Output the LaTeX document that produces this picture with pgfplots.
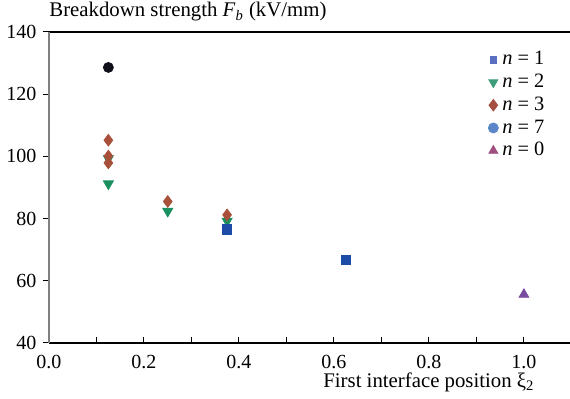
\documentclass[border=0pt]{standalone}
\usepackage{fontspec}
\setmainfont{Liberation Serif}
\usepackage{pgfplots}
\pgfplotsset{compat=1.18}
\definecolor{sqP}{HTML}{1C4CA8}
\definecolor{sqL}{HTML}{5B6FC0}
\definecolor{grP}{HTML}{1A9060}
\definecolor{grL}{HTML}{3E9C78}
\definecolor{diP}{HTML}{A8503A}
\definecolor{diL}{HTML}{A55040}
\definecolor{ciP}{HTML}{10101A}
\definecolor{ciL}{HTML}{5B86C8}
\definecolor{trP}{HTML}{7A4CA0}
\definecolor{trL}{HTML}{A05080}
\begin{document}
\fontsize{10.4}{12.5}\selectfont
\begin{tikzpicture}
\begin{axis}[
  scale only axis, width=260.5pt, height=155.5pt,
  xmin=0, xmax=1.097, ymin=40, ymax=140,
  clip=false,
  xtick={0,0.2,0.4,0.6,0.8,1.0},
  minor xtick={0.1,0.3,0.5,0.7,0.9},
  ytick={40,60,80,100,120,140},
  tick label style={font=\rmfamily\fontsize{10}{12}\selectfont},
  xticklabel style={yshift=-2.6pt, /pgf/number format/.cd, fixed, fixed zerofill, precision=1},
  /pgf/number format/assume math mode=true,
  xtick pos=left, ytick pos=left,
  axis line style={draw=none},
  tick align=inside,
  tick style={black, line width=0.5pt},
  major tick length=3.2pt, minor tick length=3.2pt,
  every y tick/.append style={xshift=-3.2pt},
  yticklabel style={xshift=-2.7pt},
  legend style={draw=none, fill=none, at={(axis description cs:0.831,0.965)}, anchor=north west, row sep=-0.9pt, font=\rmfamily\fontsize{10.2}{12}\selectfont},
  legend cell align=left,
  legend image code/.code={\draw[mark repeat=2,mark phase=2,#1] plot coordinates {(0cm,0cm) (0.15cm,0cm) (0.5cm,0cm)};},
]
% n = 2 (green, down triangles)
\addplot[forget plot, only marks, mark=triangle*, mark size=2.9pt, color=grP, mark options={rotate=180}]
  coordinates {(0.125,91.2) (0.125,99.3) (0.25,82.4) (0.375,79.2)};
% n = 3 (diamonds)
\addplot[forget plot, only marks, mark=diamond*, mark size=2.9pt, color=diP]
  coordinates {(0.125,105.2) (0.125,100.1) (0.125,97.9) (0.25,85.5) (0.375,81.2)};
% n = 1 (squares)
\addplot[forget plot, only marks, mark=square*, mark size=2.4pt, color=sqP]
  coordinates {(0.375,76.6) (0.625,66.7)};
% n = 7 (circle)
\addplot[forget plot, only marks, mark=*, mark size=2.5pt, color=ciP]
  coordinates {(0.125,128.6)};
% n = 0 (triangle)
\addplot[forget plot, only marks, mark=triangle*, mark size=2.8pt, color=trP]
  coordinates {(1.0,55.6)};
\addlegendimage{only marks, mark=square*, mark size=1.7pt, color=sqL}
\addlegendentry{\textit{n} = 1}
\addlegendimage{only marks, mark=triangle*, mark size=2.6pt, color=grL, mark options={rotate=180}}
\addlegendentry{\textit{n} = 2}
\addlegendimage{only marks, mark=diamond*, mark size=2.9pt, color=diL}
\addlegendentry{\textit{n} = 3}
\addlegendimage{only marks, mark=*, mark size=2.5pt, color=ciL}
\addlegendentry{\textit{n} = 7}
\addlegendimage{only marks, mark=triangle*, mark size=2.6pt, color=trL}
\addlegendentry{\textit{n} = 0}
\draw[black, line width=0.55pt] (rel axis cs:0,0) -- (rel axis cs:1,0);
\draw[black, line width=0.55pt] (rel axis cs:0,1) -- (rel axis cs:1,1);
\draw[gray, line width=0.9pt] (rel axis cs:0,0) -- (rel axis cs:0,1);
\node[anchor=base west, inner sep=0pt] at ([yshift=7.5pt]rel axis cs:0,1) {Breakdown strength \textit{F}\textsubscript{\textit{b}} (kV/mm)};
\node[anchor=base west, inner sep=0pt] at ([xshift=137pt, yshift=-22.5pt]rel axis cs:0,0) {First interface position ξ\textsubscript{2}};
\end{axis}
\pgfresetboundingbox
\path[use as bounding box] (-24.5pt,-28pt) rectangle (260.5pt,171.5pt);
\end{tikzpicture}
\end{document}
